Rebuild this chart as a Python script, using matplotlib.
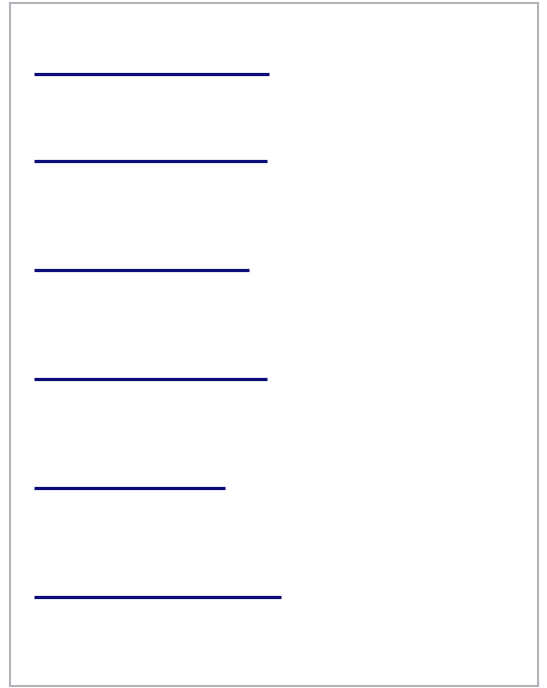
import matplotlib
matplotlib.use("Agg")
import matplotlib.pyplot as plt

# Data: one horizontal line per row, its length and its vertical position
rows = ["A", "B", "C", "D", "E", "F"]
lengths = [235, 233, 215, 233, 191, 247]
positions = [74, 161, 270, 379, 488, 597]

W, H = 547, 688
fig = plt.figure(figsize=(W / 100, H / 100), dpi=100)
left, right, top, bottom = 10, 538, 3, 686
ax = fig.add_axes([left / W, 1 - bottom / H, (right - left) / W, (bottom - top) / H])

ax.hlines(positions, 0, lengths, colors="#0a0a78", linewidth=2.3, capstyle="butt")

ax.set_xlim(-(34 - left), right - 34)
ax.set_ylim(bottom, top)
ax.set_xticks([])
ax.set_yticks([])
for s in ax.spines.values():
    s.set_color("#b1b4bb")
    s.set_linewidth(1.5)

fig.savefig("out.png", dpi=100)
